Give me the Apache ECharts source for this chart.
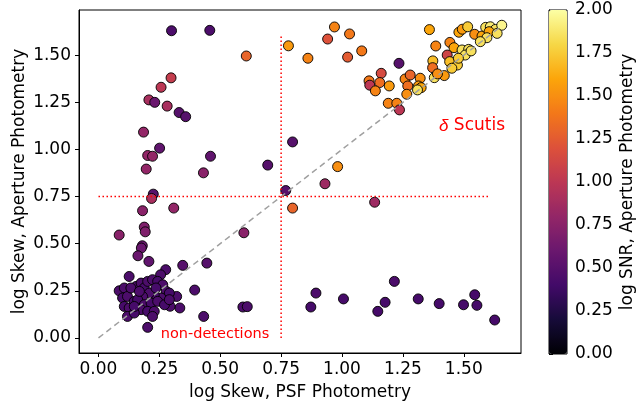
<!DOCTYPE html>
<html>
<head>
<meta charset="utf-8">
<script src="https://cdn.jsdelivr.net/npm/echarts@6/dist/echarts.min.js"></script>
<style>
  html, body { margin: 0; padding: 0; background: #fff; }
  #chart { width: 638px; height: 405px; }
</style>
</head>
<body>
<div id="chart"></div>
<script>
// log Skew (PSF), log Skew (aperture), log SNR (aperture) -- one entry per star
const psfSkew = [
  // scattered, left half
  0.30, 0.457, 0.607, 0.78, 0.86, 0.298, 0.257, 0.207, 0.231, 0.282, 0.331, 0.358,
  0.185, 0.251, 0.202, 0.222, 0.46, 0.196, 0.431, 0.695, 0.797, 0.769, 0.225, 0.218,
  0.309, 0.181, 0.797, 0.085, 0.188, 0.192, 0.597, 0.18, 0.176, 0.162, 0.207, 0.445,
  0.346, 0.276, 0.126, 0.255, 0.395, 0.321, 0.334, 0.294, 0.593, 0.611, 0.432, 0.202,
  // non-detection cluster
  0.085, 0.106, 0.099, 0.119, 0.106, 0.126, 0.119, 0.147, 0.154, 0.175, 0.188, 0.202,
  0.222, 0.243, 0.264, 0.278, 0.291, 0.257, 0.229, 0.209, 0.181, 0.161, 0.188, 0.216,
  0.243, 0.271, 0.175, 0.202, 0.229, 0.147, 0.222, 0.133, 0.236, 0.168, 0.291, 0.147,
  // bottom right
  0.872, 0.893, 1.006, 1.147, 1.177, 1.215, 1.313, 1.399, 1.499, 1.545, 1.554, 1.627,
  // middle
  0.982, 0.93, 1.134,
  // delta Scuti group
  0.969, 0.941, 1.031, 1.023, 1.081, 1.234, 1.359, 1.385, 1.443, 1.432, 1.46,
  1.48, 1.494, 1.516, 1.545, 1.575, 1.59, 1.609, 1.63, 1.656, 1.604, 1.637, 1.595, 1.568,
  1.493, 1.52, 1.506, 1.53, 1.442, 1.474, 1.451, 1.478, 1.373, 1.372, 1.379, 1.42, 1.392,
  1.161, 1.111, 1.114, 1.155, 1.137, 1.194, 1.259, 1.28, 1.321, 1.27, 1.314, 1.325, 1.31,
  1.266, 1.19, 1.225, 1.236
];
const apSkew = [
  1.63, 1.632, 1.496, 1.55, 1.484, 1.38, 1.33, 1.263, 1.25, 1.23, 1.196, 1.174,
  1.092, 1.007, 0.968, 0.964, 0.964, 0.896, 0.876, 0.917, 1.04, 0.782, 0.763, 0.74,
  0.689, 0.675, 0.689, 0.546, 0.588, 0.563, 0.558, 0.489, 0.477, 0.436, 0.406, 0.397,
  0.385, 0.362, 0.326, 0.335, 0.254, 0.22, 0.159, 0.168, 0.164, 0.166, 0.114, 0.056,
  0.25, 0.265, 0.212, 0.22, 0.167, 0.159, 0.114, 0.194, 0.273, 0.291, 0.265, 0.30,
  0.309, 0.30, 0.282, 0.247, 0.238, 0.212, 0.229, 0.238, 0.22, 0.203, 0.176, 0.185,
  0.194, 0.176, 0.15, 0.141, 0.141, 0.132, 0.114, 0.265, 0.265, 0.247, 0.203, 0.167,
  0.164, 0.238, 0.207, 0.141, 0.189, 0.30, 0.207, 0.182, 0.176, 0.229, 0.173, 0.095,
  0.909, 0.818, 0.72,
  1.65, 1.586, 1.613, 1.49, 1.523, 1.457, 1.636, 1.549, 1.568, 1.501, 1.54,
  1.622, 1.638, 1.651, 1.611, 1.602, 1.648, 1.651, 1.637, 1.659, 1.625, 1.616, 1.593, 1.572,
  1.528, 1.531, 1.501, 1.523, 1.466, 1.448, 1.431, 1.484, 1.47, 1.434, 1.381, 1.392, 1.401,
  1.404, 1.364, 1.341, 1.355, 1.311, 1.337, 1.374, 1.395, 1.378, 1.337, 1.337, 1.328, 1.316,
  1.293, 1.245, 1.245, 1.21
];
const logSnr = [
  0.45, 0.45, 1.3, 1.55, 1.45, 1.05, 1.0, 0.9, 0.6, 0.9, 0.5, 0.5,
  0.8, 0.55, 0.8, 0.8, 0.55, 0.8, 0.75, 0.5, 0.5, 0.5, 0.5, 0.9,
  0.8, 0.75, 1.3, 0.75, 0.7, 0.7, 0.75, 0.6, 0.6, 0.6, 0.55, 0.5,
  0.5, 0.45, 0.45, 0.45, 0.45, 0.45, 0.45, 0.45, 0.45, 0.45, 0.45, 0.45,
  0.45, 0.45, 0.42, 0.45, 0.42, 0.45, 0.45, 0.42, 0.45, 0.45, 0.42, 0.45,
  0.45, 0.42, 0.45, 0.45, 0.42, 0.45, 0.42, 0.45, 0.45, 0.42, 0.45, 0.42,
  0.45, 0.42, 0.45, 0.42, 0.45, 0.42, 0.45, 0.45, 0.42, 0.45, 0.45, 0.42,
  0.42, 0.45, 0.42, 0.42, 0.42, 0.45, 0.42, 0.42, 0.42, 0.42, 0.42, 0.42,
  1.5, 0.85, 0.85,
  1.45, 1.2, 1.4, 1.25, 1.4, 0.5, 1.6, 1.45, 1.45, 1.1, 1.6,
  1.6, 1.55, 1.75, 1.5, 1.6, 1.85, 1.9, 1.85, 1.95, 1.6, 1.85, 1.85, 1.85,
  1.85, 1.85, 1.85, 1.85, 1.7, 1.75, 1.75, 1.75, 1.7, 1.35, 1.85, 1.55, 1.5,
  1.15, 1.4, 1.0, 1.35, 1.45, 1.55, 1.45, 1.3, 1.5, 1.35, 1.55, 1.6, 1.85,
  1.5, 1.45, 1.45, 1.0
];

const oneToOne = [[0, 0], [1.65, 1.65]];
const psfCut = [[0.75, 0], [0.75, 1.6]];
const apCut = [[0, 0.75], [1.6, 0.75]];
const skewTicks = [0, 0.25, 0.5, 0.75, 1.0, 1.25, 1.5];
const infernoStops = ['#000004', '#160b39', '#420a68', '#6a176e', '#932667', '#bc3754',
  '#dd513a', '#f37819', '#fca50a', '#f6d746', '#fcffa4'];

const points = psfSkew.map((x, i) => [x, apSkew[i], logSnr[i]]);
const font = 'DejaVu Sans';

let myChart = echarts.init(document.getElementById('chart'));
myChart.setOption({
  animation: false,
  textStyle: { fontFamily: font },
  grid: [
    { left: 79, right: 117, top: 10, bottom: 52, show: true, borderColor: '#000', borderWidth: 1,
      outerBoundsMode: 'none', containLabel: false },
    { left: 549, width: 18, top: 10, height: 344, show: true, borderColor: '#000', borderWidth: 1,
      outerBoundsMode: 'none', containLabel: false }
  ],
  xAxis: [{
    type: 'value', min: -0.08, max: 1.735, gridIndex: 0,
    name: 'log Skew, PSF Photometry', nameLocation: 'middle', nameGap: 31,
    nameMoveOverlap: false,
    nameTextStyle: { fontSize: 17, color: '#000' },
    axisLine: { show: true, onZero: false, lineStyle: { color: '#000' } },
    axisTick: { show: true, length: 4, customValues: skewTicks, lineStyle: { color: '#000' } },
    axisLabel: { fontSize: 17, color: '#000', margin: 8, customValues: skewTicks,
      formatter: v => v.toFixed(2) },
    splitLine: { show: false }
  }, {
    type: 'value', gridIndex: 1, show: false, min: 0, max: 1
  }],
  yAxis: [{
    type: 'value', min: -0.08, max: 1.74, gridIndex: 0,
    name: 'log Skew, Aperture Photometry', nameLocation: 'middle', nameGap: 51,
    nameRotate: 90, nameMoveOverlap: false,
    nameTextStyle: { fontSize: 17, color: '#000' },
    axisLine: { show: true, onZero: false, lineStyle: { color: '#000' } },
    axisTick: { show: true, length: 4, customValues: skewTicks, lineStyle: { color: '#000' } },
    axisLabel: { fontSize: 17, color: '#000', margin: 8, customValues: skewTicks,
      formatter: v => v.toFixed(2) },
    splitLine: { show: false }
  }, {
    type: 'value', gridIndex: 1, min: 0, max: 2, interval: 0.25, position: 'right',
    name: 'log SNR, Aperture Photometry', nameLocation: 'middle', nameGap: 52,
    nameRotate: 90, nameMoveOverlap: false,
    nameTextStyle: { fontSize: 17, color: '#000' },
    axisLine: { show: true, lineStyle: { color: '#000' } },
    axisTick: { show: true, length: 4, lineStyle: { color: '#000' } },
    axisLabel: { fontSize: 17, color: '#000', margin: 8, formatter: v => v.toFixed(2) },
    splitLine: { show: false }
  }],
  visualMap: {
    type: 'continuous', min: 0, max: 2, dimension: 2, seriesIndex: 0,
    left: 549, top: 10, itemWidth: 18, itemHeight: 344, padding: 0,
    calculable: false, text: null, showLabel: false, hoverLink: false,
    inRange: { color: infernoStops }
  },
  series: [
    {
      type: 'scatter', xAxisIndex: 0, yAxisIndex: 0, data: points, symbolSize: 10, z: 2,
      itemStyle: { borderColor: '#000', borderWidth: 0.9, opacity: 1 }
    },
    {
      type: 'line', data: oneToOne, symbol: 'none', z: 3,
      lineStyle: { color: '#a0a0a0', width: 1.5, type: [6, 4] }
    },
    {
      type: 'line', data: psfCut, symbol: 'none', z: 3,
      lineStyle: { color: '#ff0000', width: 1.5, type: [1.5, 2.5] }
    },
    {
      type: 'line', data: apCut, symbol: 'none', z: 3,
      lineStyle: { color: '#ff0000', width: 1.5, type: [1.5, 2.5] }
    }
  ],
  graphic: [
    { type: 'text', x: 215, y: 334, style: { text: 'non-detections', fill: '#ff0000',
      font: '14.5px "DejaVu Sans"', align: 'center', verticalAlign: 'middle' } },
    { type: 'text', x: 472, y: 126, style: { text: '{d|\u03b4} Scutis', fill: '#ff0000',
      font: '17px "DejaVu Sans"', align: 'center', verticalAlign: 'middle',
      rich: { d: { fontStyle: 'italic', fontSize: 17, fill: '#ff0000' } } } }
  ]
});
</script>
</body>
</html>
